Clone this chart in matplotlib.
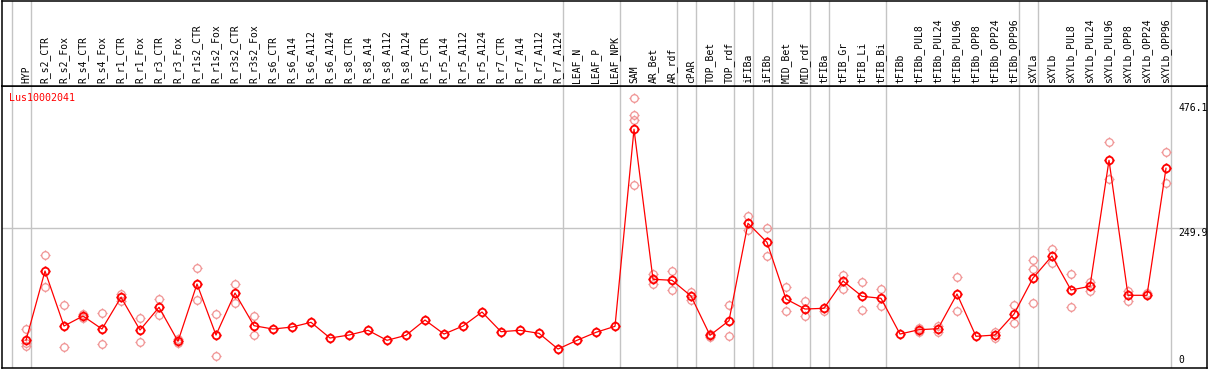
# Expression profile of Lus10002041 across tissues
import numpy as np
import matplotlib.pyplot as plt
from matplotlib.path import Path

labels = ["HYP", "R_s2_CTR", "R_s2_Fox", "R_s4_CTR", "R_s4_Fox", "R_r1_CTR", "R_r1_Fox",
          "R_r3_CTR", "R_r3_Fox", "R_r1s2_CTR", "R_r1s2_Fox", "R_r3s2_CTR", "R_r3s2_Fox",
          "R_s6_CTR", "R_s6_A14", "R_s6_A112", "R_s6_A124", "R_s8_CTR", "R_s8_A14",
          "R_s8_A112", "R_s8_A124", "R_r5_CTR", "R_r5_A14", "R_r5_A112", "R_r5_A124",
          "R_r7_CTR", "R_r7_A14", "R_r7_A112", "R_r7_A124", "LEAF_N", "LEAF_P", "LEAF_NPK",
          "SAM", "AR_Bet", "AR_rdf", "cPAR", "TOP_Bet", "TOP_rdf", "iFIBa", "iFIBb",
          "MID_Bet", "MID_rdf", "tFIBa", "tFIB_Gr", "tFIB_Li", "tFIB_Bi", "tFIBb",
          "tFIBb_PUL8", "tFIBb_PUL24", "tFIBb_PUL96", "tFIBb_OPP8", "tFIBb_OPP24",
          "tFIBb_OPP96", "sXYLa", "sXYLb", "sXYLb_PUL8", "sXYLb_PUL24", "sXYLb_PUL96",
          "sXYLb_OPP8", "sXYLb_OPP24", "sXYLb_OPP96"]

means = [48.4, 173.1, 74.1, 92.1, 68.7, 125.8, 66.9, 107.8, 46.6, 149.7, 57.9, 133.5, 74.7,
         68.7, 72.3, 80.8, 52.5, 57.9, 66.4, 48.4, 57.4, 84.9, 59.7, 74.1, 99.3,
         63.9, 66.4, 61.0, 32.7, 48.4, 62.8, 73.6,
         428.1, 158.2, 156.4, 128.1, 57.4, 83.7, 258.9, 224.7, 122.7, 104.7, 106.0,
         155.1, 127.6, 124.0, 59.7, 67.5, 69.3, 131.7, 55.6, 57.9, 95.7,
         160.5, 200.1, 138.9, 145.6, 372.3, 129.4, 129.4, 357.9]

replicates = [[68.7, 43.0, 38.7], [201.9, 143.8], [111.4, 35.8], [95.2, 89.4], [97.0, 41.7],
              [132.2, 119.7], [88.0, 44.8], [122.7, 93.9], [50.7, 44.1], [178.0, 120.9],
              [95.2, 20.2], [149.7, 116.1], [92.1, 57.9],
              [], [], [], [], [], [], [], [], [], [], [], [], [], [], [], [], [], [], [],
              [483.8, 454.3, 444.8, 327.3], [167.7, 149.7], [172.6, 138.9], [135.3, 120.9],
              [59.7, 54.9], [111.4, 55.6], [272.1, 246.9], [249.9, 200.1], [143.8, 101.1],
              [119.1, 91.6], [101.7], [165.4, 140.2], [153.3, 102.9], [140.2, 110.1], [],
              [63.3, 70.5], [74.1, 63.9], [162.3, 101.1], [], [62.8, 52.0], [111.4, 80.1],
              [192.3, 176.2, 115.0], [212.7, 187.5], [167.7, 107.8], [153.3, 137.6],
              [404.7, 339.2], [137.1, 119.7], [133.5], [387.2, 331.4]]

group_starts = [0, 1, 29, 32, 35, 36, 38, 39, 40, 42, 43, 46, 53, 54, 61]
ytick_vals = [476.1, 249.9]

W, H = 1209, 370
fig = plt.figure(figsize=(W / 100, H / 100), dpi=100)
ax = fig.add_axes([1.5 / W, 2 / H, 1205.5 / W, 282.3 / H])
hdr = fig.add_axes([1.5 / W, 284.3 / H, 1205.5 / W, 85.2 / H])

xlim = (-24.5 / 19, 1181 / 19)
for a in (ax, hdr):
    a.set_xlim(*xlim)
    a.set_xticks([])
    a.set_yticks([])
    for s in a.spines.values():
        s.set_linewidth(1.1)
        s.set_color("black")
    for k in group_starts:
        a.axvline(k - 0.75, color="#c4c4c4", lw=1.0, zorder=0)
ax.set_ylim(-1.4, 506.5)
hdr.set_ylim(0, 1)

ax.axhline(249.9, color="#c4c4c4", lw=1.0, zorder=0)

# circle marker with small ticks
circ = Path.unit_circle()
t = 1.35
ticks = Path([(0, 1), (0, t), (0, -1), (0, -t), (1, 0), (t, 0), (-1, 0), (-t, 0)],
             [Path.MOVETO, Path.LINETO] * 4)
mk = Path.make_compound_path(circ, ticks)

x = np.arange(len(labels))
for i, reps in enumerate(replicates):
    if reps:
        ax.plot([i] * len(reps), reps, linestyle="none", marker=mk, markersize=7.3,
                markerfacecolor="none", markeredgecolor="#f09494", markeredgewidth=0.9,
                zorder=2)
ax.plot(x, means, color="#ff0000", lw=0.9, zorder=3)
ax.plot(x, means, linestyle="none", marker=mk, markersize=7.3, markerfacecolor="none",
        markeredgecolor="#ff0000", markeredgewidth=1.3, zorder=4)

mono = "DejaVu Sans Mono"
for i, lab in enumerate(labels):
    hdr.text(i, 0.032, lab, rotation=90, ha="center", va="bottom", fontsize=7, family=mono)

ax.text(0.0062, 0.958, "Lus10002041", transform=ax.transAxes, color="#ff0000",
        fontsize=7.2, family=mono, va="center", ha="left")

yt = ax.get_yaxis_transform()
for v in ytick_vals:
    ax.text(0.976, v, f"{v}", transform=yt, ha="left", va="top", fontsize=7, family=mono)
ax.annotate("0", (0.976, 0), xycoords=yt, xytext=(0, 1.5), textcoords="offset points",
            ha="left", va="bottom", fontsize=7, family=mono)

fig.savefig("out.png", dpi=100)
